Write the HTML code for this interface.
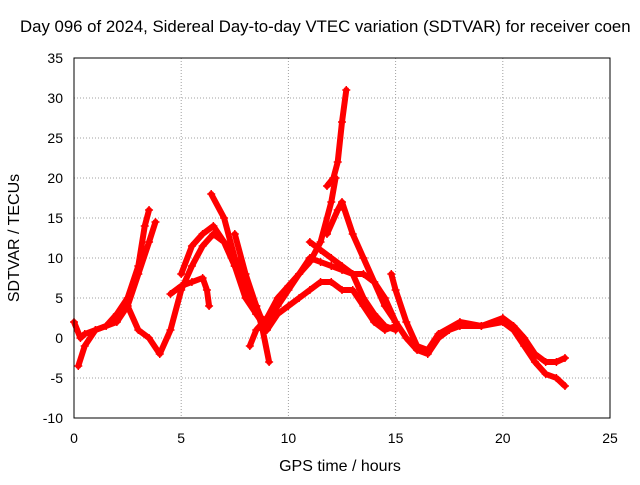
<!DOCTYPE html>
<html><head><meta charset="utf-8"><style>
body{margin:0;background:#fff;width:640px;height:480px;overflow:hidden}
svg{font-family:"Liberation Sans",sans-serif;font-size:14px}
</style></head><body>
<svg width="640" height="480">
<text x="20" y="32" fill="#000" style="font-size:16.8px">Day 096 of 2024, Sidereal Day-to-day VTEC variation (SDTVAR) for receiver coen</text>
<g id="grid"></g><g id="axes"></g><g id="series"></g>
<rect x="74" y="58" width="536" height="360" fill="none" stroke="#000"/>
<text x="340" y="471" text-anchor="middle" style="font-size:16px">GPS time / hours</text>
<text transform="translate(19,238) rotate(-90)" text-anchor="middle" style="font-size:16px">SDTVAR / TECUs</text>
</svg>
<script>
const xTicks=[0,5,10,15,20,25];
const yTicks=[-10,-5,0,5,10,15,20,25,30,35];
const tracks=[
[[0,2],[0.3,0],[0.5,0.5],[1,1],[1.5,1.5],[2,3],[2.5,5],[3,9],[3.3,14],[3.5,16]],
[[0.2,-3.5],[0.5,-1],[1,1],[2,2],[2.5,4],[3,1],[3.5,0],[4,-2],[4.5,1],[5,6],[5.5,9],[6,11.5],[6.5,13],[7,12],[7.5,9],[8,5],[8.5,3],[9,2],[9.5,4],[10,6],[10.5,8],[11,10],[11.5,9.5],[12,9],[12.5,8.5],[13,8],[13.5,5],[14,3],[14.5,1.5],[15,1]],
[[2.5,4],[3,8],[3.5,12],[3.8,14.5]],
[[4.5,5.5],[5,6.5],[5.5,7],[6,7.5],[6.2,6],[6.3,4]],
[[5,8],[5.5,11.5],[6,13],[6.5,14],[7,12],[7.5,9],[8,6],[8.5,3],[9,1],[9.5,3],[10,4],[10.5,5],[11,6],[11.5,7],[12,7],[12.5,6],[13,6],[13.5,4],[14,2],[14.5,1],[15,1.5]],
[[6.4,18],[7,15],[7.5,10],[8,7],[8.5,4],[8.8,1],[9.1,-3]],
[[7.5,13],[8,8],[8.5,4],[8.8,2],[9,2.5]],
[[8.2,-1],[8.5,1],[9,2.5],[9.5,5],[10,6.5],[10.5,8],[11,9.5],[11.5,12],[12,17],[12.2,20]],
[[11.8,19],[12.1,20],[12.3,22],[12.5,27],[12.7,31]],
[[11.8,13],[12.3,16],[12.5,17],[13,13],[13.5,10],[14,7],[14.5,4],[15,2],[15.5,0],[16,-1.5],[16.5,-2],[17,0],[17.5,1],[18,1.5],[19,1.5],[20,2],[20.5,1],[21,-1],[21.5,-3],[22,-4.5],[22.5,-5],[22.9,-6]],
[[14.8,8],[15,6],[15.5,2],[16,-1],[16.5,-1.5],[17,0.5],[18,2],[19,1.5],[20,2.5],[20.5,1.5],[21,0],[21.5,-2],[22,-3],[22.5,-3],[22.9,-2.5]],
[[11,12],[11.5,11],[12,10],[12.5,9],[13,8],[13.5,8],[14,7],[14.5,5],[15,2]]
];
const X=v=>74+v*536/25, Y=v=>338-v*8;
const NS='http://www.w3.org/2000/svg';
const g=document.getElementById('grid'),a=document.getElementById('axes'),s=document.getElementById('series');
function el(t,at,p){const e=document.createElementNS(NS,t);for(const k in at)e.setAttribute(k,at[k]);p.appendChild(e);return e;}
xTicks.forEach(v=>{
 const l=el('line',{x1:X(v),x2:X(v),y1:58,y2:418,stroke:'#a0a0a0','stroke-dasharray':'1,2'},g);
 
 
 const t=el('text',{x:X(v),y:443,'text-anchor':'middle'},a);t.textContent=v;
 
 
});
yTicks.forEach(v=>{
 const l=el('line',{x1:74,x2:610,y1:Y(v),y2:Y(v),stroke:'#a0a0a0','stroke-dasharray':'1,2'},g);
 
 
 const t=el('text',{x:63,y:Y(v)+5,'text-anchor':'end'},a);t.textContent=v;
 
 
});
tracks.forEach(tr=>{
 const p=el('polyline',{points:tr.map(q=>X(q[0])+','+Y(q[1])).join(' '),fill:'none',stroke:'#f00','stroke-width':6,'stroke-linejoin':'round','stroke-linecap':'round'},s);
 
 
 tr.forEach(q=>{
  const m=el('path',{d:`M${X(q[0])-4},${Y(q[1])}h8M${X(q[0])},${Y(q[1])-4}v8`,stroke:'#f00','stroke-width':1.5},s);
  
  
 });
});
</script>
</body></html>
